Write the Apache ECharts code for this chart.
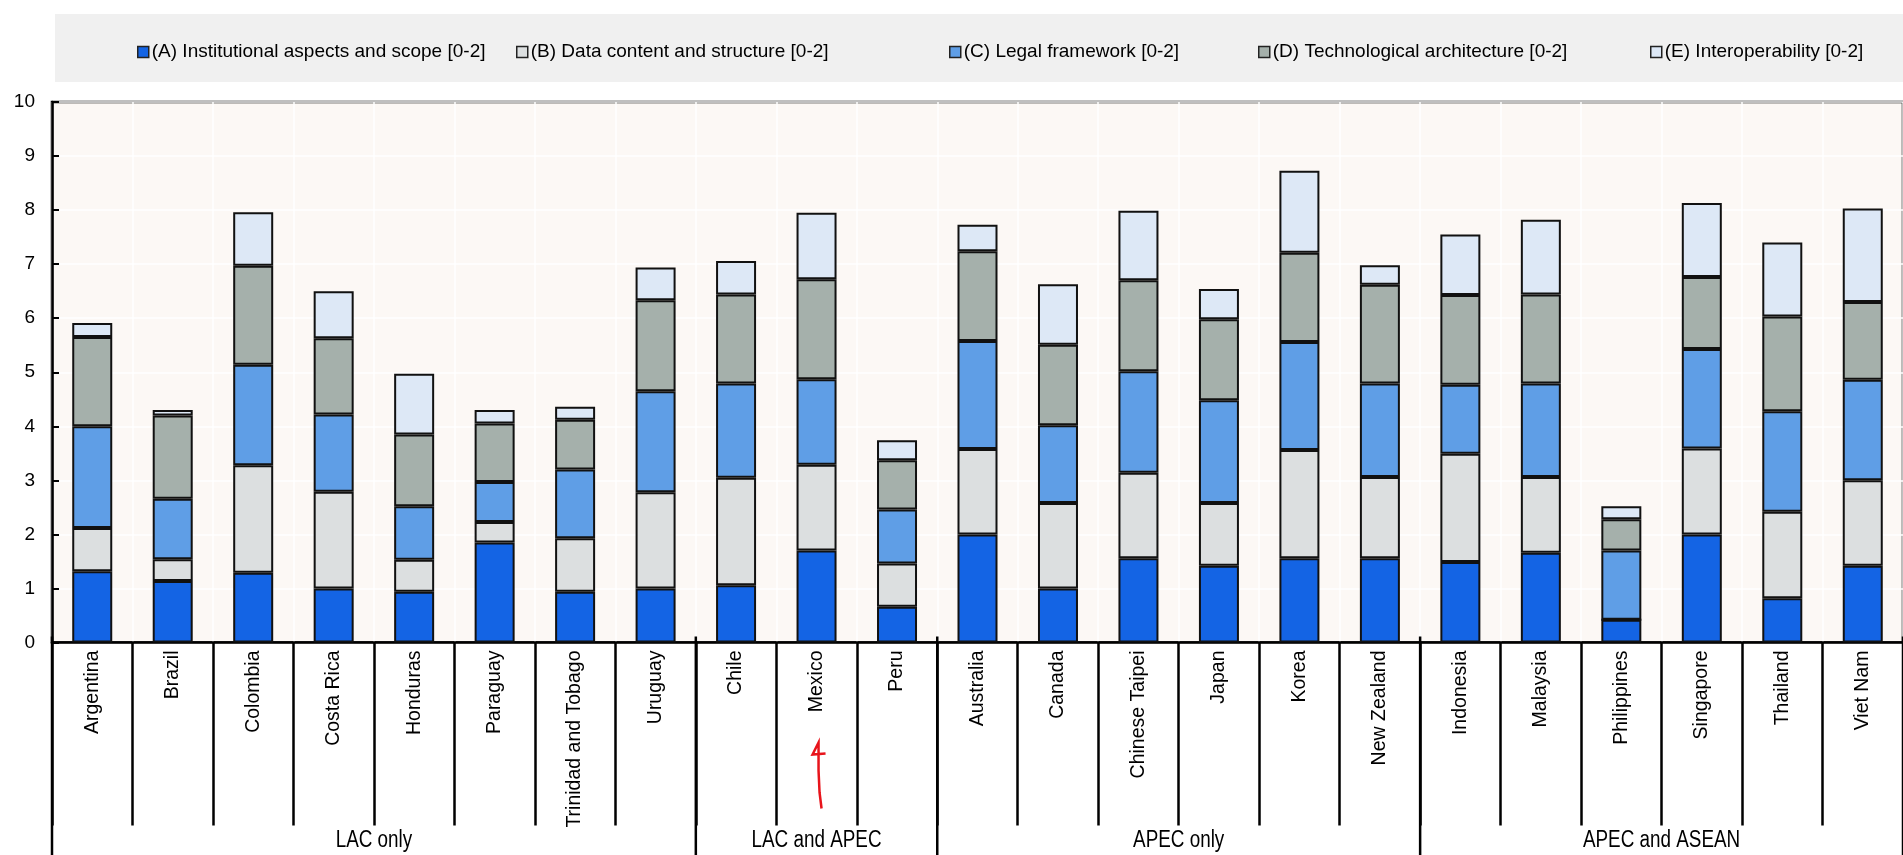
<!DOCTYPE html>
<html><head><meta charset="utf-8">
<script src="https://cdn.jsdelivr.net/npm/echarts/dist/echarts.min.js"></script>
<style>html,body{margin:0;padding:0;background:#fff;}#c{width:1903px;height:855px;}</style>
</head><body><div id="c"></div>
<script>
const categories = ['Argentina','Brazil','Colombia','Costa Rica','Honduras','Paraguay','Trinidad and Tobago','Uruguay',
  'Chile','Mexico','Peru',
  'Australia','Canada','Chinese Taipei','Japan','Korea','New Zealand',
  'Indonesia','Malaysia','Philippines','Singapore','Thailand','Viet Nam'];
const groupNames = ['LAC only','LAC and APEC','APEC only','APEC and ASEAN'];
const groupSizes = [8, 3, 6, 6];
const seriesNames = ['(A) Institutional aspects and scope [0-2]','(B) Data content and structure [0-2]','(C) Legal framework [0-2]','(D) Technological architecture [0-2]','(E) Interoperability [0-2]'];
const valuesA = [1.32,1.14,1.29,1.00,0.94,1.85,0.94,1.00,1.06,1.70,0.66,2.00,1.00,1.56,1.42,1.56,1.56,1.49,1.66,0.42,2.00,0.82,1.42];
const valuesB = [0.80,0.40,1.99,1.79,0.59,0.38,0.99,1.78,1.99,1.59,0.80,1.58,1.58,1.58,1.16,2.00,1.50,2.00,1.40,0.00,1.59,1.60,1.58];
const valuesC = [1.88,1.12,1.86,1.43,0.99,0.74,1.27,1.87,1.74,1.58,1.00,2.00,1.44,1.88,1.90,2.00,1.73,1.28,1.73,1.28,1.84,1.86,1.86];
const valuesD = [1.65,1.54,1.83,1.41,1.33,1.08,0.92,1.68,1.65,1.85,0.91,1.66,1.49,1.68,1.50,1.65,1.83,1.66,1.65,0.58,1.33,1.75,1.44];
const valuesE = [0.26,0.10,0.99,0.87,1.12,0.25,0.24,0.61,0.62,1.23,0.37,0.49,1.12,1.29,0.56,1.52,0.36,1.12,1.38,0.24,1.37,1.37,1.73];
const yMin = 0, yMax = 10, yInterval = 1;

const colors = ['#1464e4','#dcdfe0','#5f9ee6','#a5b0ab','#dde8f6'];
const font = "'Liberation Sans',Arial,sans-serif";
const legendCenters = [138, 517, 950, 1259, 1651];
const allValues = [valuesA, valuesB, valuesC, valuesD, valuesE];

const chart = echarts.init(document.getElementById('c'), null, {renderer:'canvas'});
const option = {
  animation: false,
  backgroundColor: '#ffffff',
  textStyle: {fontFamily: font},
  legend: seriesNames.map((n, i) => ({
    data: [n], left: legendCenters[i] - 6, top: 36,
    itemWidth: 11, itemHeight: 11, icon: 'rect',
    itemStyle: {borderColor: '#222', borderWidth: 1.5},
    textStyle: {fontFamily: font, fontSize: 19, color: '#000', lineHeight: 22, padding: [0,0,0,-2]},
    selectedMode: false
  })),
  grid: {left: 52, top: 102, width: 1870, height: 540.5, show: true, backgroundColor: '#fcf8f5', borderColor: '#000', borderWidth: 2.5},
  xAxis: {
    type: 'category', data: categories,
    axisLine: {lineStyle: {color: '#000', width: 2.5}},
    axisTick: {show: true, interval: 0, length: 183, lineStyle: {color: '#000', width: 2.5}},
    axisLabel: {rotate: 90, interval: 0, fontSize: 19.5, color: '#000', margin: 8, fontFamily: font},
    splitLine: {show: true, interval: 0, lineStyle: {color: '#ffffff', width: 1.5}}
  },
  yAxis: {
    type: 'value', min: yMin, max: yMax, interval: yInterval,
    axisLine: {show: true, lineStyle: {color: '#000', width: 2.5}},
    axisTick: {show: true, inside: true, length: 7, lineStyle: {color: '#000', width: 2}},
    axisLabel: {fontSize: 19, color: '#000', margin: 17, fontFamily: font},
    splitLine: {show: true, lineStyle: {color: '#ffffff', width: 1.5}}
  },
  series: seriesNames.map((n, i) => ({
    name: n, type: 'bar', stack: 'total', barWidth: 40, data: allValues[i],
    itemStyle: {color: colors[i], borderColor: '#111', borderWidth: 2}
  }))
};
chart.setOption(option);

// Derived decorations: group separators and group labels from the axis scale
const cx = i => chart.convertToPixel({xAxisIndex: 0}, categories[i]);
const band = cx(1) - cx(0);
const bound = i => cx(0) + (i - 0.5) * band;
const y0 = chart.convertToPixel({yAxisIndex: 0}, 0);
const H = 855;
const graphics = [{type: 'rect', z: -10, shape: {x: 55, y: 14, width: 1848, height: 68}, style: {fill: '#f0f0f0'}}];
let start = 0;
const cuts = [0];
groupSizes.forEach(s => { start += s; cuts.push(start); });
cuts.forEach(c => {
  graphics.push({type: 'line', z: 10, shape: {x1: bound(c), y1: y0 - 6, x2: bound(c), y2: H}, style: {stroke: '#000', lineWidth: 2.5}});
});
groupNames.forEach((g, k) => {
  const mid = (bound(cuts[k]) + bound(cuts[k + 1])) / 2;
  graphics.push({type: 'text', z: 10, x: mid, y: y0 + 198, scaleX: 0.82, style: {text: g, fontFamily: font, fontSize: 23, fill: '#000', align: 'center', verticalAlign: 'middle'}});
});
// red hand-drawn arrow under Mexico
const mx = cx(categories.indexOf('Mexico'));
graphics.push({type: 'polyline', z: 12, shape: {points: [[mx + 5, y0 + 166], [mx + 3, y0 + 150], [mx + 2, y0 + 128], [mx + 2, y0 + 100], [mx - 4, y0 + 112], [mx + 9, y0 + 111]]}, style: {stroke: '#e8141b', lineWidth: 2.5, fill: null}});
chart.setOption({graphic: graphics});
</script></body></html>
